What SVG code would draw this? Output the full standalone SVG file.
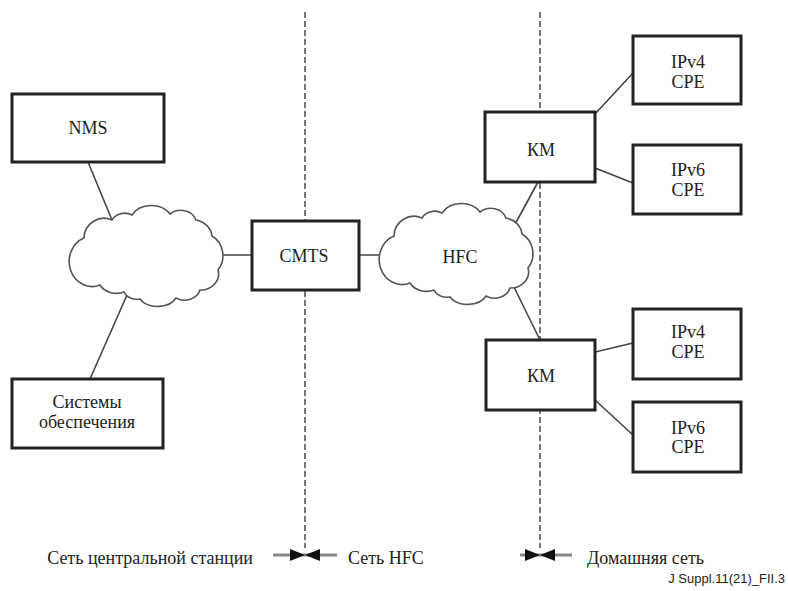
<svg xmlns="http://www.w3.org/2000/svg" width="788" height="591" viewBox="0 0 788 591">
  <style>
    .box { fill: #fff; stroke: #222; stroke-width: 3; }
    .cloud { fill: #fff; stroke: #555; stroke-width: 1.6; }
    .link { fill: none; stroke: #444; stroke-width: 1.6; }
    .border { fill: none; stroke: #555; stroke-width: 1.6; stroke-dasharray: 6 3; }
    .zone { fill: none; stroke: #888; stroke-width: 3; }
    .head { fill: #111; }
    text { font-family: "Liberation Serif", Tinos, "Times New Roman", Times, "DejaVu Serif", "Noto Serif", serif; font-size: 18px; fill: #222; }
    .lbl { text-anchor: middle; }
    .ref { font-family: "Liberation Sans", Arimo, Arial, "DejaVu Sans", sans-serif; font-size: 13px; text-anchor: end; }
  </style>
  <defs>
    <path id="cloudShape" d="M 84,238 A 20,20 0 0 1 112,220 A 14,12 0 0 1 132,215 A 22,18 0 0 1 170,214 A 16,14 0 0 1 196,220 A 20,18 0 0 1 212,236 A 20,22 0 0 1 218,270 A 18,16 0 0 1 200,290 A 16,14 0 0 1 176,298 A 20,14 0 0 1 140,299 A 14,12 0 0 1 124,292 A 18,14 0 0 1 100,285 A 20,22 0 0 1 84,238 Z"/>
  </defs>

  <!-- zone borders -->
  <g id="borders">
    <line class="border" x1="305" y1="12" x2="305" y2="548"/>
    <line class="border" x1="540" y1="12" x2="540" y2="548"/>
  </g>

  <!-- connectors -->
  <g id="connectors">
    <line class="link" x1="88" y1="162" x2="112" y2="220"/>
    <line class="link" x1="127" y1="295" x2="90" y2="379"/>
    <line class="link" x1="218" y1="255" x2="252" y2="255"/>
    <line class="link" x1="359" y1="255" x2="392" y2="255"/>
    <line class="link" x1="513" y1="228" x2="538" y2="182"/>
    <line class="link" x1="512" y1="283" x2="540" y2="340"/>
    <line class="link" x1="595" y1="114" x2="633" y2="73"/>
    <line class="link" x1="595" y1="168" x2="633" y2="183"/>
    <line class="link" x1="595" y1="352" x2="633" y2="343"/>
    <line class="link" x1="595" y1="400" x2="633" y2="435"/>
  </g>

  <g id="core-cloud">
    <use href="#cloudShape" class="cloud"/>
  </g>
  <g id="hfc-cloud">
    <use href="#cloudShape" class="cloud" transform="translate(310,-2)"/>
    <text class="lbl" x="460" y="263" font-family="Liberation Serif, serif">HFC</text>
  </g>

  <g id="nms">
    <rect class="box" x="12" y="94" width="152" height="68"/>
    <text class="lbl" x="88" y="134">NMS</text>
  </g>
  <g id="provisioning">
    <rect class="box" x="12" y="379" width="151" height="69"/>
    <text class="lbl" x="87" y="408">Системы</text>
    <text class="lbl" x="87" y="428">обеспечения</text>
  </g>
  <g id="cmts">
    <rect class="box" x="252" y="221" width="107" height="69"/>
    <text class="lbl" x="304" y="262">CMTS</text>
  </g>
  <g id="cm-top">
    <rect class="box" x="485" y="112" width="110" height="70"/>
    <text class="lbl" x="541" y="156">КМ</text>
  </g>
  <g id="cm-bottom">
    <rect class="box" x="486" y="340" width="109" height="70"/>
    <text class="lbl" x="541" y="382">КМ</text>
  </g>
  <g id="cpe-v4-top">
    <rect class="box" x="633" y="36" width="108" height="68"/>
    <text class="lbl" x="688" y="68">IPv4</text>
    <text class="lbl" x="688" y="88">CPE</text>
  </g>
  <g id="cpe-v6-top">
    <rect class="box" x="633" y="145" width="108" height="69"/>
    <text class="lbl" x="688" y="176">IPv6</text>
    <text class="lbl" x="688" y="196">CPE</text>
  </g>
  <g id="cpe-v4-bottom">
    <rect class="box" x="633" y="309" width="108" height="70"/>
    <text class="lbl" x="688" y="338">IPv4</text>
    <text class="lbl" x="688" y="358">CPE</text>
  </g>
  <g id="cpe-v6-bottom">
    <rect class="box" x="633" y="402" width="108" height="70"/>
    <text class="lbl" x="688" y="434">IPv6</text>
    <text class="lbl" x="688" y="453">CPE</text>
  </g>

  <!-- zone legend -->
  <g id="legend">
    <line class="zone" x1="273" y1="555" x2="337" y2="555"/>
    <polygon class="head" points="290,549 305,555 290,561"/>
    <polygon class="head" points="320,549 305,555 320,561"/>
    <line class="zone" x1="520" y1="555" x2="572" y2="555"/>
    <polygon class="head" points="525,549 540,555 525,561"/>
    <polygon class="head" points="555,549 540,555 555,561"/>
    <text x="253" y="564" text-anchor="end">Сеть центральной станции</text>
    <text x="348" y="564">Сеть HFC</text>
    <text x="587" y="564">Домашняя сеть</text>
    <text class="ref" x="785" y="583">J Suppl.11(21)_FII.3</text>
  </g>
</svg>
